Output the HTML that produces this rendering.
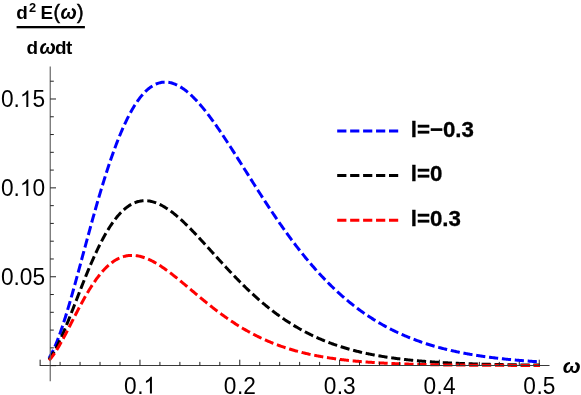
<!DOCTYPE html>
<html><head><meta charset="utf-8"><title>plot</title>
<style>
html,body{margin:0;padding:0;background:#fff;width:581px;height:395px;overflow:hidden;}
svg{display:block;will-change:transform;}
text{font-family:"Liberation Sans",sans-serif;}
</style></head>
<body>
<svg width="581" height="395" viewBox="0 0 581 395">
<rect width="581" height="395" fill="#fff"/>
<path d="M49.00 358.10 L49.82 356.78 L50.64 355.36 L51.45 353.85 L52.27 352.26 L53.09 350.58 L53.91 348.82 L54.73 346.98 L55.55 345.06 L56.36 343.07 L57.18 341.02 L58.00 338.89 L58.82 336.70 L59.64 334.45 L60.46 332.14 L61.28 329.78 L62.09 327.36 L62.91 324.89 L63.73 322.37 L64.55 319.81 L65.37 317.20 L66.19 314.55 L67.00 311.86 L67.82 309.14 L68.64 306.38 L69.46 303.59 L70.28 300.77 L71.09 297.92 L71.91 295.05 L72.73 292.15 L73.55 289.23 L74.37 286.29 L75.19 283.33 L76.00 280.36 L76.82 277.37 L77.64 274.37 L78.46 271.36 L79.28 268.35 L80.10 265.32 L80.91 262.29 L81.73 259.26 L82.55 256.22 L83.37 253.18 L84.19 250.15 L85.01 247.11 L85.82 244.08 L86.64 241.06 L87.46 238.04 L88.28 235.03 L89.10 232.03 L89.92 229.04 L90.73 226.06 L91.55 223.10 L92.37 220.14 L93.19 217.21 L94.01 214.29 L94.83 211.38 L95.65 208.50 L96.46 205.63 L97.28 202.79 L98.10 199.97 L98.92 197.17 L99.74 194.39 L100.56 191.63 L101.37 188.90 L102.19 186.20 L103.01 183.52 L103.83 180.87 L104.65 178.25 L105.46 175.65 L106.28 173.09 L107.10 170.55 L107.92 168.05 L108.74 165.57 L109.56 163.13 L110.38 160.72 L111.19 158.34 L112.01 156.00 L112.83 153.68 L113.65 151.41 L114.47 149.16 L115.28 146.95 L116.10 144.78 L116.92 142.64 L117.74 140.54 L118.56 138.47 L119.38 136.44 L120.19 134.45 L121.01 132.49 L121.83 130.57 L122.65 128.69 L123.47 126.84 L124.29 125.04 L125.10 123.27 L125.92 121.54 L126.74 119.84 L127.56 118.19 L128.38 116.57 L129.20 114.99 L130.01 113.45 L130.83 111.95 L131.65 110.48 L132.47 109.06 L133.29 107.67 L134.11 106.32 L134.93 105.01 L135.74 103.74 L136.56 102.50 L137.38 101.31 L138.20 100.15 L139.02 99.03 L139.83 97.95 L140.65 96.90 L141.47 95.89 L142.29 94.93 L143.11 93.99 L143.93 93.10 L144.75 92.24 L145.56 91.42 L146.38 90.63 L147.20 89.89 L148.02 89.17 L148.84 88.50 L149.65 87.86 L150.47 87.25 L151.29 86.68 L152.11 86.15 L152.93 85.65 L153.75 85.18 L154.56 84.75 L155.38 84.35 L156.20 83.99 L157.02 83.66 L157.84 83.36 L158.66 83.09 L159.47 82.86 L160.29 82.66 L161.11 82.49 L161.93 82.35 L162.75 82.25 L163.57 82.17 L164.38 82.13 L165.20 82.11 L166.02 82.13 L166.84 82.18 L167.66 82.25 L168.48 82.35 L169.29 82.48 L170.11 82.64 L170.93 82.83 L171.75 83.04 L172.57 83.29 L173.39 83.55 L174.21 83.85 L175.02 84.17 L175.84 84.52 L176.66 84.89 L177.48 85.28 L178.30 85.70 L179.12 86.15 L179.93 86.62 L180.75 87.11 L181.57 87.62 L182.39 88.16 L183.21 88.72 L184.03 89.30 L184.84 89.90 L185.66 90.53 L186.48 91.17 L187.30 91.84 L188.12 92.53 L188.94 93.23 L189.75 93.95 L190.57 94.70 L191.39 95.46 L192.21 96.24 L193.03 97.04 L193.84 97.85 L194.66 98.69 L195.48 99.54 L196.30 100.40 L197.12 101.28 L197.94 102.18 L198.75 103.10 L199.57 104.02 L200.39 104.97 L201.21 105.92 L202.03 106.90 L202.85 107.88 L203.66 108.88 L204.48 109.89 L205.30 110.92 L206.12 111.95 L206.94 113.00 L207.76 114.06 L208.57 115.13 L209.39 116.21 L210.21 117.31 L211.03 118.41 L211.85 119.53 L212.67 120.65 L213.49 121.78 L214.30 122.93 L215.12 124.08 L215.94 125.24 L216.76 126.41 L217.58 127.58 L218.40 128.77 L219.21 129.96 L220.03 131.16 L220.85 132.36 L221.67 133.58 L222.49 134.80 L223.31 136.02 L224.12 137.25 L224.94 138.49 L225.76 139.73 L226.58 140.98 L227.40 142.23 L228.22 143.48 L229.03 144.75 L229.85 146.01 L230.67 147.28 L231.49 148.55 L232.31 149.83 L233.12 151.11 L233.94 152.39 L234.76 153.67 L235.58 154.96 L236.40 156.25 L237.22 157.54 L238.03 158.83 L238.85 160.13 L239.67 161.42 L240.49 162.72 L241.31 164.02 L242.13 165.32 L242.95 166.62 L243.76 167.92 L244.58 169.22 L245.40 170.52 L246.22 171.82 L247.04 173.12 L247.86 174.42 L248.67 175.72 L249.49 177.02 L250.31 178.32 L251.13 179.62 L251.95 180.91 L252.77 182.21 L253.58 183.50 L254.40 184.79 L255.22 186.08 L256.04 187.37 L256.86 188.66 L257.68 189.94 L258.49 191.22 L259.31 192.50 L260.13 193.77 L260.95 195.05 L261.77 196.32 L262.59 197.58 L263.40 198.85 L264.22 200.11 L265.04 201.37 L265.86 202.62 L266.68 203.87 L267.50 205.12 L268.31 206.36 L269.13 207.60 L269.95 208.84 L270.77 210.07 L271.59 211.29 L272.41 212.52 L273.22 213.73 L274.04 214.95 L274.86 216.16 L275.68 217.36 L276.50 218.56 L277.32 219.76 L278.13 220.95 L278.95 222.13 L279.77 223.32 L280.59 224.49 L281.41 225.66 L282.23 226.83 L283.04 227.99 L283.86 229.14 L284.68 230.29 L285.50 231.44 L286.32 232.58 L287.13 233.71 L287.95 234.84 L288.77 235.96 L289.59 237.08 L290.41 238.19 L291.23 239.29 L292.04 240.39 L292.86 241.49 L293.68 242.58 L294.50 243.66 L295.32 244.73 L296.14 245.80 L296.95 246.87 L297.77 247.93 L298.59 248.98 L299.41 250.02 L300.23 251.06 L301.05 252.10 L301.87 253.13 L302.68 254.15 L303.50 255.16 L304.32 256.17 L305.14 257.18 L305.96 258.17 L306.77 259.16 L307.59 260.15 L308.41 261.13 L309.23 262.10 L310.05 263.06 L310.87 264.02 L311.69 264.98 L312.50 265.92 L313.32 266.86 L314.14 267.80 L314.96 268.72 L315.78 269.64 L316.59 270.56 L317.41 271.47 L318.23 272.37 L319.05 273.27 L319.87 274.16 L320.69 275.04 L321.50 275.92 L322.32 276.79 L323.14 277.65 L323.96 278.51 L324.78 279.36 L325.60 280.21 L326.41 281.05 L327.23 281.88 L328.05 282.71 L328.87 283.53 L329.69 284.34 L330.51 285.15 L331.32 285.95 L332.14 286.75 L332.96 287.54 L333.78 288.32 L334.60 289.10 L335.42 289.87 L336.24 290.63 L337.05 291.39 L337.87 292.15 L338.69 292.89 L339.51 293.63 L340.33 294.37 L341.14 295.10 L341.96 295.82 L342.78 296.54 L343.60 297.25 L344.42 297.95 L345.24 298.65 L346.06 299.35 L346.87 300.04 L347.69 300.72 L348.51 301.39 L349.33 302.06 L350.15 302.73 L350.96 303.39 L351.78 304.04 L352.60 304.69 L353.42 305.33 L354.24 305.97 L355.06 306.60 L355.88 307.22 L356.69 307.84 L357.51 308.46 L358.33 309.07 L359.15 309.67 L359.97 310.27 L360.78 310.86 L361.60 311.45 L362.42 312.03 L363.24 312.61 L364.06 313.18 L364.88 313.75 L365.69 314.31 L366.51 314.87 L367.33 315.42 L368.15 315.96 L368.97 316.50 L369.79 317.04 L370.60 317.57 L371.42 318.10 L372.24 318.62 L373.06 319.14 L373.88 319.65 L374.70 320.15 L375.51 320.65 L376.33 321.15 L377.15 321.64 L377.97 322.13 L378.79 322.61 L379.61 323.09 L380.42 323.57 L381.24 324.04 L382.06 324.50 L382.88 324.96 L383.70 325.42 L384.52 325.87 L385.33 326.31 L386.15 326.76 L386.97 327.19 L387.79 327.63 L388.61 328.06 L389.43 328.48 L390.24 328.90 L391.06 329.32 L391.88 329.73 L392.70 330.14 L393.52 330.54 L394.34 330.94 L395.15 331.34 L395.97 331.73 L396.79 332.12 L397.61 332.50 L398.43 332.88 L399.25 333.26 L400.06 333.63 L400.88 334.00 L401.70 334.37 L402.52 334.73 L403.34 335.09 L404.16 335.44 L404.97 335.79 L405.79 336.14 L406.61 336.48 L407.43 336.82 L408.25 337.15 L409.07 337.49 L409.88 337.82 L410.70 338.14 L411.52 338.46 L412.34 338.78 L413.16 339.10 L413.98 339.41 L414.80 339.72 L415.61 340.02 L416.43 340.32 L417.25 340.62 L418.07 340.92 L418.89 341.21 L419.71 341.50 L420.52 341.78 L421.34 342.07 L422.16 342.35 L422.98 342.62 L423.80 342.90 L424.62 343.17 L425.43 343.44 L426.25 343.70 L427.07 343.96 L427.89 344.22 L428.71 344.48 L429.53 344.73 L430.34 344.98 L431.16 345.23 L431.98 345.48 L432.80 345.72 L433.62 345.96 L434.44 346.20 L435.25 346.43 L436.07 346.66 L436.89 346.89 L437.71 347.12 L438.53 347.34 L439.35 347.57 L440.16 347.79 L440.98 348.00 L441.80 348.22 L442.62 348.43 L443.44 348.64 L444.25 348.85 L445.07 349.05 L445.89 349.25 L446.71 349.45 L447.53 349.65 L448.35 349.85 L449.17 350.04 L449.98 350.23 L450.80 350.42 L451.62 350.61 L452.44 350.79 L453.26 350.98 L454.07 351.16 L454.89 351.33 L455.71 351.51 L456.53 351.68 L457.35 351.86 L458.17 352.03 L458.99 352.20 L459.80 352.36 L460.62 352.53 L461.44 352.69 L462.26 352.85 L463.08 353.01 L463.89 353.17 L464.71 353.32 L465.53 353.47 L466.35 353.63 L467.17 353.78 L467.99 353.92 L468.81 354.07 L469.62 354.21 L470.44 354.36 L471.26 354.50 L472.08 354.64 L472.90 354.78 L473.72 354.91 L474.53 355.05 L475.35 355.18 L476.17 355.31 L476.99 355.44 L477.81 355.57 L478.62 355.70 L479.44 355.82 L480.26 355.94 L481.08 356.07 L481.90 356.19 L482.72 356.31 L483.54 356.42 L484.35 356.54 L485.17 356.66 L485.99 356.77 L486.81 356.88 L487.63 356.99 L488.44 357.10 L489.26 357.21 L490.08 357.32 L490.90 357.42 L491.72 357.53 L492.54 357.63 L493.36 357.73 L494.17 357.83 L494.99 357.93 L495.81 358.03 L496.63 358.13 L497.45 358.22 L498.26 358.32 L499.08 358.41 L499.90 358.50 L500.72 358.59 L501.54 358.68 L502.36 358.77 L503.18 358.86 L503.99 358.95 L504.81 359.03 L505.63 359.12 L506.45 359.20 L507.27 359.28 L508.09 359.37 L508.90 359.45 L509.72 359.53 L510.54 359.60 L511.36 359.68 L512.18 359.76 L513.00 359.83 L513.81 359.91 L514.63 359.98 L515.45 360.06 L516.27 360.13 L517.09 360.20 L517.90 360.27 L518.72 360.34 L519.54 360.41 L520.36 360.47 L521.18 360.54 L522.00 360.61 L522.82 360.67 L523.63 360.73 L524.45 360.80 L525.27 360.86 L526.09 360.92 L526.91 360.98 L527.73 361.04 L528.54 361.10 L529.36 361.16 L530.18 361.22 L531.00 361.28 L531.82 361.33 L532.63 361.39 L533.45 361.44 L534.27 361.50 L535.09 361.55 L535.91 361.60 L536.73 361.66 L537.55 361.71 L538.36 361.76 L539.18 361.81 L540.00 361.86" fill="none" stroke="#0000ff" stroke-width="3.0" stroke-dasharray="9.2 3.75"/>
<path d="M49.00 359.50 L49.82 358.44 L50.64 357.30 L51.45 356.10 L52.27 354.84 L53.09 353.51 L53.91 352.12 L54.73 350.67 L55.55 349.17 L56.36 347.62 L57.18 346.02 L58.00 344.37 L58.82 342.68 L59.64 340.95 L60.46 339.18 L61.28 337.37 L62.09 335.53 L62.91 333.65 L63.73 331.75 L64.55 329.82 L65.37 327.86 L66.19 325.89 L67.00 323.89 L67.82 321.87 L68.64 319.83 L69.46 317.78 L70.28 315.72 L71.09 313.64 L71.91 311.56 L72.73 309.47 L73.55 307.37 L74.37 305.26 L75.19 303.16 L76.00 301.05 L76.82 298.94 L77.64 296.84 L78.46 294.73 L79.28 292.64 L80.10 290.54 L80.91 288.46 L81.73 286.38 L82.55 284.31 L83.37 282.26 L84.19 280.21 L85.01 278.18 L85.82 276.16 L86.64 274.16 L87.46 272.17 L88.28 270.20 L89.10 268.25 L89.92 266.32 L90.73 264.40 L91.55 262.51 L92.37 260.64 L93.19 258.79 L94.01 256.96 L94.83 255.16 L95.65 253.38 L96.46 251.63 L97.28 249.90 L98.10 248.19 L98.92 246.52 L99.74 244.87 L100.56 243.24 L101.37 241.65 L102.19 240.08 L103.01 238.54 L103.83 237.03 L104.65 235.55 L105.46 234.10 L106.28 232.68 L107.10 231.29 L107.92 229.94 L108.74 228.61 L109.56 227.31 L110.38 226.04 L111.19 224.81 L112.01 223.60 L112.83 222.43 L113.65 221.29 L114.47 220.18 L115.28 219.10 L116.10 218.06 L116.92 217.04 L117.74 216.06 L118.56 215.11 L119.38 214.19 L120.19 213.31 L121.01 212.45 L121.83 211.63 L122.65 210.83 L123.47 210.07 L124.29 209.34 L125.10 208.64 L125.92 207.98 L126.74 207.34 L127.56 206.73 L128.38 206.16 L129.20 205.61 L130.01 205.10 L130.83 204.61 L131.65 204.16 L132.47 203.73 L133.29 203.34 L134.11 202.97 L134.93 202.63 L135.74 202.32 L136.56 202.04 L137.38 201.78 L138.20 201.55 L139.02 201.35 L139.83 201.18 L140.65 201.04 L141.47 200.92 L142.29 200.82 L143.11 200.75 L143.93 200.71 L144.75 200.70 L145.56 200.70 L146.38 200.74 L147.20 200.79 L148.02 200.87 L148.84 200.97 L149.65 201.10 L150.47 201.25 L151.29 201.42 L152.11 201.61 L152.93 201.83 L153.75 202.07 L154.56 202.32 L155.38 202.60 L156.20 202.90 L157.02 203.22 L157.84 203.55 L158.66 203.91 L159.47 204.29 L160.29 204.68 L161.11 205.09 L161.93 205.52 L162.75 205.97 L163.57 206.43 L164.38 206.91 L165.20 207.41 L166.02 207.92 L166.84 208.44 L167.66 208.99 L168.48 209.54 L169.29 210.12 L170.11 210.70 L170.93 211.30 L171.75 211.91 L172.57 212.54 L173.39 213.18 L174.21 213.83 L175.02 214.49 L175.84 215.16 L176.66 215.85 L177.48 216.55 L178.30 217.25 L179.12 217.97 L179.93 218.70 L180.75 219.44 L181.57 220.18 L182.39 220.94 L183.21 221.70 L184.03 222.47 L184.84 223.26 L185.66 224.04 L186.48 224.84 L187.30 225.64 L188.12 226.45 L188.94 227.27 L189.75 228.09 L190.57 228.92 L191.39 229.76 L192.21 230.60 L193.03 231.45 L193.84 232.30 L194.66 233.15 L195.48 234.02 L196.30 234.88 L197.12 235.75 L197.94 236.62 L198.75 237.50 L199.57 238.38 L200.39 239.26 L201.21 240.15 L202.03 241.03 L202.85 241.92 L203.66 242.82 L204.48 243.71 L205.30 244.61 L206.12 245.50 L206.94 246.40 L207.76 247.30 L208.57 248.20 L209.39 249.11 L210.21 250.01 L211.03 250.91 L211.85 251.81 L212.67 252.72 L213.49 253.62 L214.30 254.52 L215.12 255.42 L215.94 256.33 L216.76 257.23 L217.58 258.13 L218.40 259.02 L219.21 259.92 L220.03 260.82 L220.85 261.71 L221.67 262.60 L222.49 263.49 L223.31 264.38 L224.12 265.27 L224.94 266.15 L225.76 267.03 L226.58 267.91 L227.40 268.79 L228.22 269.67 L229.03 270.54 L229.85 271.41 L230.67 272.27 L231.49 273.13 L232.31 273.99 L233.12 274.85 L233.94 275.70 L234.76 276.55 L235.58 277.39 L236.40 278.24 L237.22 279.07 L238.03 279.91 L238.85 280.74 L239.67 281.56 L240.49 282.39 L241.31 283.20 L242.13 284.02 L242.95 284.83 L243.76 285.63 L244.58 286.43 L245.40 287.23 L246.22 288.02 L247.04 288.81 L247.86 289.59 L248.67 290.37 L249.49 291.14 L250.31 291.91 L251.13 292.67 L251.95 293.43 L252.77 294.19 L253.58 294.94 L254.40 295.68 L255.22 296.42 L256.04 297.16 L256.86 297.89 L257.68 298.61 L258.49 299.33 L259.31 300.04 L260.13 300.75 L260.95 301.46 L261.77 302.16 L262.59 302.85 L263.40 303.54 L264.22 304.22 L265.04 304.90 L265.86 305.58 L266.68 306.24 L267.50 306.91 L268.31 307.56 L269.13 308.22 L269.95 308.86 L270.77 309.51 L271.59 310.14 L272.41 310.77 L273.22 311.40 L274.04 312.02 L274.86 312.64 L275.68 313.25 L276.50 313.85 L277.32 314.45 L278.13 315.05 L278.95 315.64 L279.77 316.22 L280.59 316.80 L281.41 317.37 L282.23 317.94 L283.04 318.51 L283.86 319.06 L284.68 319.62 L285.50 320.17 L286.32 320.71 L287.13 321.25 L287.95 321.78 L288.77 322.31 L289.59 322.83 L290.41 323.35 L291.23 323.86 L292.04 324.37 L292.86 324.87 L293.68 325.37 L294.50 325.87 L295.32 326.36 L296.14 326.84 L296.95 327.32 L297.77 327.79 L298.59 328.26 L299.41 328.73 L300.23 329.19 L301.05 329.64 L301.87 330.09 L302.68 330.54 L303.50 330.98 L304.32 331.41 L305.14 331.85 L305.96 332.27 L306.77 332.70 L307.59 333.11 L308.41 333.53 L309.23 333.94 L310.05 334.34 L310.87 334.74 L311.69 335.14 L312.50 335.53 L313.32 335.92 L314.14 336.30 L314.96 336.68 L315.78 337.06 L316.59 337.43 L317.41 337.80 L318.23 338.16 L319.05 338.52 L319.87 338.87 L320.69 339.22 L321.50 339.57 L322.32 339.91 L323.14 340.25 L323.96 340.59 L324.78 340.92 L325.60 341.25 L326.41 341.57 L327.23 341.89 L328.05 342.21 L328.87 342.52 L329.69 342.83 L330.51 343.13 L331.32 343.44 L332.14 343.73 L332.96 344.03 L333.78 344.32 L334.60 344.61 L335.42 344.89 L336.24 345.17 L337.05 345.45 L337.87 345.72 L338.69 345.99 L339.51 346.26 L340.33 346.53 L341.14 346.79 L341.96 347.04 L342.78 347.30 L343.60 347.55 L344.42 347.80 L345.24 348.05 L346.06 348.29 L346.87 348.53 L347.69 348.76 L348.51 349.00 L349.33 349.23 L350.15 349.46 L350.96 349.68 L351.78 349.90 L352.60 350.12 L353.42 350.34 L354.24 350.55 L355.06 350.76 L355.88 350.97 L356.69 351.18 L357.51 351.38 L358.33 351.58 L359.15 351.78 L359.97 351.97 L360.78 352.17 L361.60 352.36 L362.42 352.54 L363.24 352.73 L364.06 352.91 L364.88 353.09 L365.69 353.27 L366.51 353.45 L367.33 353.62 L368.15 353.79 L368.97 353.96 L369.79 354.13 L370.60 354.29 L371.42 354.45 L372.24 354.61 L373.06 354.77 L373.88 354.93 L374.70 355.08 L375.51 355.23 L376.33 355.38 L377.15 355.53 L377.97 355.68 L378.79 355.82 L379.61 355.96 L380.42 356.10 L381.24 356.24 L382.06 356.38 L382.88 356.51 L383.70 356.64 L384.52 356.78 L385.33 356.90 L386.15 357.03 L386.97 357.16 L387.79 357.28 L388.61 357.40 L389.43 357.52 L390.24 357.64 L391.06 357.76 L391.88 357.87 L392.70 357.99 L393.52 358.10 L394.34 358.21 L395.15 358.32 L395.97 358.43 L396.79 358.53 L397.61 358.64 L398.43 358.74 L399.25 358.84 L400.06 358.94 L400.88 359.04 L401.70 359.14 L402.52 359.24 L403.34 359.33 L404.16 359.43 L404.97 359.52 L405.79 359.61 L406.61 359.70 L407.43 359.79 L408.25 359.87 L409.07 359.96 L409.88 360.04 L410.70 360.13 L411.52 360.21 L412.34 360.29 L413.16 360.37 L413.98 360.45 L414.80 360.53 L415.61 360.60 L416.43 360.68 L417.25 360.75 L418.07 360.82 L418.89 360.90 L419.71 360.97 L420.52 361.04 L421.34 361.11 L422.16 361.17 L422.98 361.24 L423.80 361.31 L424.62 361.37 L425.43 361.44 L426.25 361.50 L427.07 361.56 L427.89 361.62 L428.71 361.68 L429.53 361.74 L430.34 361.80 L431.16 361.86 L431.98 361.92 L432.80 361.97 L433.62 362.03 L434.44 362.08 L435.25 362.13 L436.07 362.19 L436.89 362.24 L437.71 362.29 L438.53 362.34 L439.35 362.39 L440.16 362.44 L440.98 362.49 L441.80 362.54 L442.62 362.58 L443.44 362.63 L444.25 362.67 L445.07 362.72 L445.89 362.76 L446.71 362.81 L447.53 362.85 L448.35 362.89 L449.17 362.93 L449.98 362.97 L450.80 363.01 L451.62 363.05 L452.44 363.09 L453.26 363.13 L454.07 363.17 L454.89 363.20 L455.71 363.24 L456.53 363.28 L457.35 363.31 L458.17 363.35 L458.99 363.38 L459.80 363.42 L460.62 363.45 L461.44 363.48 L462.26 363.52 L463.08 363.55 L463.89 363.58 L464.71 363.61 L465.53 363.64 L466.35 363.67 L467.17 363.70 L467.99 363.73 L468.81 363.76 L469.62 363.79 L470.44 363.81 L471.26 363.84 L472.08 363.87 L472.90 363.89 L473.72 363.92 L474.53 363.95 L475.35 363.97 L476.17 364.00 L476.99 364.02 L477.81 364.04 L478.62 364.07 L479.44 364.09 L480.26 364.11 L481.08 364.14 L481.90 364.16 L482.72 364.18 L483.54 364.20 L484.35 364.22 L485.17 364.24 L485.99 364.26 L486.81 364.29 L487.63 364.30 L488.44 364.32 L489.26 364.34 L490.08 364.36 L490.90 364.38 L491.72 364.40 L492.54 364.42 L493.36 364.44 L494.17 364.45 L494.99 364.47 L495.81 364.49 L496.63 364.50 L497.45 364.52 L498.26 364.54 L499.08 364.55 L499.90 364.57 L500.72 364.58 L501.54 364.60 L502.36 364.61 L503.18 364.63 L503.99 364.64 L504.81 364.66 L505.63 364.67 L506.45 364.68 L507.27 364.70 L508.09 364.71 L508.90 364.72 L509.72 364.74 L510.54 364.75 L511.36 364.76 L512.18 364.78 L513.00 364.79 L513.81 364.80 L514.63 364.81 L515.45 364.82 L516.27 364.83 L517.09 364.84 L517.90 364.86 L518.72 364.87 L519.54 364.88 L520.36 364.89 L521.18 364.90 L522.00 364.91 L522.82 364.92 L523.63 364.93 L524.45 364.94 L525.27 364.95 L526.09 364.96 L526.91 364.97 L527.73 364.97 L528.54 364.98 L529.36 364.99 L530.18 365.00 L531.00 365.01 L531.82 365.02 L532.63 365.03 L533.45 365.03 L534.27 365.04 L535.09 365.05 L535.91 365.06 L536.73 365.06 L537.55 365.07 L538.36 365.08 L539.18 365.09 L540.00 365.09" fill="none" stroke="#000000" stroke-width="3.0" stroke-dasharray="9.2 3.75"/>
<path d="M49.00 360.37 L49.82 359.48 L50.64 358.53 L51.45 357.52 L52.27 356.46 L53.09 355.35 L53.91 354.19 L54.73 352.99 L55.55 351.75 L56.36 350.47 L57.18 349.15 L58.00 347.80 L58.82 346.42 L59.64 345.01 L60.46 343.57 L61.28 342.11 L62.09 340.63 L62.91 339.12 L63.73 337.60 L64.55 336.06 L65.37 334.50 L66.19 332.94 L67.00 331.36 L67.82 329.77 L68.64 328.18 L69.46 326.58 L70.28 324.98 L71.09 323.37 L71.91 321.77 L72.73 320.16 L73.55 318.56 L74.37 316.96 L75.19 315.36 L76.00 313.78 L76.82 312.19 L77.64 310.62 L78.46 309.06 L79.28 307.51 L80.10 305.97 L80.91 304.44 L81.73 302.93 L82.55 301.43 L83.37 299.95 L84.19 298.48 L85.01 297.04 L85.82 295.61 L86.64 294.20 L87.46 292.81 L88.28 291.44 L89.10 290.09 L89.92 288.76 L90.73 287.45 L91.55 286.17 L92.37 284.91 L93.19 283.68 L94.01 282.47 L94.83 281.28 L95.65 280.12 L96.46 278.98 L97.28 277.87 L98.10 276.79 L98.92 275.73 L99.74 274.70 L100.56 273.70 L101.37 272.72 L102.19 271.77 L103.01 270.84 L103.83 269.95 L104.65 269.08 L105.46 268.24 L106.28 267.42 L107.10 266.64 L107.92 265.88 L108.74 265.15 L109.56 264.45 L110.38 263.77 L111.19 263.12 L112.01 262.50 L112.83 261.91 L113.65 261.34 L114.47 260.80 L115.28 260.29 L116.10 259.81 L116.92 259.35 L117.74 258.92 L118.56 258.51 L119.38 258.13 L120.19 257.78 L121.01 257.45 L121.83 257.15 L122.65 256.87 L123.47 256.62 L124.29 256.39 L125.10 256.18 L125.92 256.00 L126.74 255.85 L127.56 255.72 L128.38 255.61 L129.20 255.52 L130.01 255.46 L130.83 255.41 L131.65 255.40 L132.47 255.40 L133.29 255.42 L134.11 255.47 L134.93 255.53 L135.74 255.62 L136.56 255.72 L137.38 255.85 L138.20 255.99 L139.02 256.15 L139.83 256.33 L140.65 256.53 L141.47 256.75 L142.29 256.98 L143.11 257.24 L143.93 257.50 L144.75 257.79 L145.56 258.09 L146.38 258.40 L147.20 258.74 L148.02 259.08 L148.84 259.44 L149.65 259.82 L150.47 260.21 L151.29 260.61 L152.11 261.02 L152.93 261.45 L153.75 261.89 L154.56 262.35 L155.38 262.81 L156.20 263.29 L157.02 263.77 L157.84 264.27 L158.66 264.78 L159.47 265.29 L160.29 265.82 L161.11 266.36 L161.93 266.90 L162.75 267.46 L163.57 268.02 L164.38 268.59 L165.20 269.17 L166.02 269.76 L166.84 270.35 L167.66 270.95 L168.48 271.56 L169.29 272.17 L170.11 272.79 L170.93 273.41 L171.75 274.04 L172.57 274.68 L173.39 275.32 L174.21 275.96 L175.02 276.61 L175.84 277.26 L176.66 277.92 L177.48 278.58 L178.30 279.25 L179.12 279.91 L179.93 280.58 L180.75 281.26 L181.57 281.93 L182.39 282.61 L183.21 283.29 L184.03 283.97 L184.84 284.65 L185.66 285.33 L186.48 286.02 L187.30 286.71 L188.12 287.39 L188.94 288.08 L189.75 288.77 L190.57 289.46 L191.39 290.14 L192.21 290.83 L193.03 291.52 L193.84 292.21 L194.66 292.89 L195.48 293.58 L196.30 294.26 L197.12 294.95 L197.94 295.63 L198.75 296.31 L199.57 296.99 L200.39 297.67 L201.21 298.34 L202.03 299.02 L202.85 299.69 L203.66 300.36 L204.48 301.03 L205.30 301.69 L206.12 302.36 L206.94 303.02 L207.76 303.67 L208.57 304.33 L209.39 304.98 L210.21 305.63 L211.03 306.28 L211.85 306.92 L212.67 307.56 L213.49 308.19 L214.30 308.83 L215.12 309.46 L215.94 310.08 L216.76 310.71 L217.58 311.32 L218.40 311.94 L219.21 312.55 L220.03 313.16 L220.85 313.76 L221.67 314.36 L222.49 314.96 L223.31 315.55 L224.12 316.14 L224.94 316.72 L225.76 317.30 L226.58 317.87 L227.40 318.44 L228.22 319.01 L229.03 319.57 L229.85 320.13 L230.67 320.68 L231.49 321.23 L232.31 321.78 L233.12 322.32 L233.94 322.85 L234.76 323.38 L235.58 323.91 L236.40 324.43 L237.22 324.95 L238.03 325.46 L238.85 325.97 L239.67 326.48 L240.49 326.98 L241.31 327.47 L242.13 327.96 L242.95 328.45 L243.76 328.93 L244.58 329.41 L245.40 329.88 L246.22 330.35 L247.04 330.81 L247.86 331.27 L248.67 331.72 L249.49 332.17 L250.31 332.62 L251.13 333.06 L251.95 333.49 L252.77 333.93 L253.58 334.35 L254.40 334.78 L255.22 335.19 L256.04 335.61 L256.86 336.02 L257.68 336.42 L258.49 336.82 L259.31 337.22 L260.13 337.61 L260.95 338.00 L261.77 338.38 L262.59 338.76 L263.40 339.14 L264.22 339.51 L265.04 339.87 L265.86 340.24 L266.68 340.59 L267.50 340.95 L268.31 341.30 L269.13 341.64 L269.95 341.99 L270.77 342.32 L271.59 342.66 L272.41 342.99 L273.22 343.31 L274.04 343.63 L274.86 343.95 L275.68 344.27 L276.50 344.58 L277.32 344.88 L278.13 345.19 L278.95 345.49 L279.77 345.78 L280.59 346.07 L281.41 346.36 L282.23 346.64 L283.04 346.92 L283.86 347.20 L284.68 347.48 L285.50 347.75 L286.32 348.01 L287.13 348.28 L287.95 348.54 L288.77 348.79 L289.59 349.04 L290.41 349.29 L291.23 349.54 L292.04 349.78 L292.86 350.02 L293.68 350.26 L294.50 350.49 L295.32 350.73 L296.14 350.95 L296.95 351.18 L297.77 351.40 L298.59 351.62 L299.41 351.83 L300.23 352.04 L301.05 352.25 L301.87 352.46 L302.68 352.66 L303.50 352.87 L304.32 353.06 L305.14 353.26 L305.96 353.45 L306.77 353.64 L307.59 353.83 L308.41 354.01 L309.23 354.20 L310.05 354.37 L310.87 354.55 L311.69 354.73 L312.50 354.90 L313.32 355.07 L314.14 355.23 L314.96 355.40 L315.78 355.56 L316.59 355.72 L317.41 355.88 L318.23 356.03 L319.05 356.19 L319.87 356.34 L320.69 356.49 L321.50 356.63 L322.32 356.78 L323.14 356.92 L323.96 357.06 L324.78 357.20 L325.60 357.33 L326.41 357.47 L327.23 357.60 L328.05 357.73 L328.87 357.86 L329.69 357.98 L330.51 358.11 L331.32 358.23 L332.14 358.35 L332.96 358.47 L333.78 358.58 L334.60 358.70 L335.42 358.81 L336.24 358.92 L337.05 359.03 L337.87 359.14 L338.69 359.25 L339.51 359.35 L340.33 359.46 L341.14 359.56 L341.96 359.66 L342.78 359.76 L343.60 359.85 L344.42 359.95 L345.24 360.04 L346.06 360.13 L346.87 360.23 L347.69 360.31 L348.51 360.40 L349.33 360.49 L350.15 360.57 L350.96 360.66 L351.78 360.74 L352.60 360.82 L353.42 360.90 L354.24 360.98 L355.06 361.06 L355.88 361.14 L356.69 361.21 L357.51 361.28 L358.33 361.36 L359.15 361.43 L359.97 361.50 L360.78 361.57 L361.60 361.64 L362.42 361.70 L363.24 361.77 L364.06 361.83 L364.88 361.90 L365.69 361.96 L366.51 362.02 L367.33 362.08 L368.15 362.14 L368.97 362.20 L369.79 362.26 L370.60 362.32 L371.42 362.37 L372.24 362.43 L373.06 362.48 L373.88 362.53 L374.70 362.59 L375.51 362.64 L376.33 362.69 L377.15 362.74 L377.97 362.79 L378.79 362.83 L379.61 362.88 L380.42 362.93 L381.24 362.97 L382.06 363.02 L382.88 363.06 L383.70 363.11 L384.52 363.15 L385.33 363.19 L386.15 363.23 L386.97 363.27 L387.79 363.31 L388.61 363.35 L389.43 363.39 L390.24 363.43 L391.06 363.46 L391.88 363.50 L392.70 363.54 L393.52 363.57 L394.34 363.61 L395.15 363.64 L395.97 363.67 L396.79 363.71 L397.61 363.74 L398.43 363.77 L399.25 363.80 L400.06 363.83 L400.88 363.86 L401.70 363.89 L402.52 363.92 L403.34 363.95 L404.16 363.98 L404.97 364.01 L405.79 364.03 L406.61 364.06 L407.43 364.09 L408.25 364.11 L409.07 364.14 L409.88 364.16 L410.70 364.19 L411.52 364.21 L412.34 364.24 L413.16 364.26 L413.98 364.28 L414.80 364.30 L415.61 364.33 L416.43 364.35 L417.25 364.37 L418.07 364.39 L418.89 364.41 L419.71 364.43 L420.52 364.45 L421.34 364.47 L422.16 364.49 L422.98 364.51 L423.80 364.53 L424.62 364.54 L425.43 364.56 L426.25 364.58 L427.07 364.60 L427.89 364.61 L428.71 364.63 L429.53 364.65 L430.34 364.66 L431.16 364.68 L431.98 364.69 L432.80 364.71 L433.62 364.72 L434.44 364.74 L435.25 364.75 L436.07 364.76 L436.89 364.78 L437.71 364.79 L438.53 364.81 L439.35 364.82 L440.16 364.83 L440.98 364.84 L441.80 364.86 L442.62 364.87 L443.44 364.88 L444.25 364.89 L445.07 364.90 L445.89 364.91 L446.71 364.93 L447.53 364.94 L448.35 364.95 L449.17 364.96 L449.98 364.97 L450.80 364.98 L451.62 364.99 L452.44 365.00 L453.26 365.01 L454.07 365.02 L454.89 365.03 L455.71 365.03 L456.53 365.04 L457.35 365.05 L458.17 365.06 L458.99 365.07 L459.80 365.08 L460.62 365.09 L461.44 365.09 L462.26 365.10 L463.08 365.11 L463.89 365.12 L464.71 365.12 L465.53 365.13 L466.35 365.14 L467.17 365.14 L467.99 365.15 L468.81 365.16 L469.62 365.16 L470.44 365.17 L471.26 365.18 L472.08 365.18 L472.90 365.19 L473.72 365.20 L474.53 365.20 L475.35 365.21 L476.17 365.21 L476.99 365.22 L477.81 365.22 L478.62 365.23 L479.44 365.23 L480.26 365.24 L481.08 365.24 L481.90 365.25 L482.72 365.25 L483.54 365.26 L484.35 365.26 L485.17 365.27 L485.99 365.27 L486.81 365.28 L487.63 365.28 L488.44 365.29 L489.26 365.29 L490.08 365.29 L490.90 365.30 L491.72 365.30 L492.54 365.31 L493.36 365.31 L494.17 365.31 L494.99 365.32 L495.81 365.32 L496.63 365.32 L497.45 365.33 L498.26 365.33 L499.08 365.33 L499.90 365.34 L500.72 365.34 L501.54 365.34 L502.36 365.35 L503.18 365.35 L503.99 365.35 L504.81 365.36 L505.63 365.36 L506.45 365.36 L507.27 365.36 L508.09 365.37 L508.90 365.37 L509.72 365.37 L510.54 365.37 L511.36 365.38 L512.18 365.38 L513.00 365.38 L513.81 365.38 L514.63 365.39 L515.45 365.39 L516.27 365.39 L517.09 365.39 L517.90 365.40 L518.72 365.40 L519.54 365.40 L520.36 365.40 L521.18 365.40 L522.00 365.41 L522.82 365.41 L523.63 365.41 L524.45 365.41 L525.27 365.41 L526.09 365.41 L526.91 365.42 L527.73 365.42 L528.54 365.42 L529.36 365.42 L530.18 365.42 L531.00 365.42 L531.82 365.43 L532.63 365.43 L533.45 365.43 L534.27 365.43 L535.09 365.43 L535.91 365.43 L536.73 365.43 L537.55 365.44 L538.36 365.44 L539.18 365.44 L540.00 365.44" fill="none" stroke="#ff0000" stroke-width="3.0" stroke-dasharray="9.2 3.75"/>
<line x1="39.7" y1="365.5" x2="549.5" y2="365.5" stroke="#383838" stroke-width="1.1"/>
<line x1="50.24" y1="66.5" x2="50.24" y2="381.3" stroke="#666666" stroke-width="1.19"/>
<line x1="40.14" y1="365.5" x2="40.14" y2="359.70" stroke="#222222" stroke-width="1.0"/>
<line x1="60.10" y1="365.5" x2="60.10" y2="361.90" stroke="#222222" stroke-width="1.0"/>
<line x1="80.07" y1="365.5" x2="80.07" y2="361.90" stroke="#222222" stroke-width="1.0"/>
<line x1="100.03" y1="365.5" x2="100.03" y2="361.90" stroke="#222222" stroke-width="1.0"/>
<line x1="120.00" y1="365.5" x2="120.00" y2="361.90" stroke="#222222" stroke-width="1.0"/>
<line x1="139.96" y1="365.5" x2="139.96" y2="359.70" stroke="#222222" stroke-width="1.0"/>
<line x1="159.92" y1="365.5" x2="159.92" y2="361.90" stroke="#222222" stroke-width="1.0"/>
<line x1="179.89" y1="365.5" x2="179.89" y2="361.90" stroke="#222222" stroke-width="1.0"/>
<line x1="199.85" y1="365.5" x2="199.85" y2="361.90" stroke="#222222" stroke-width="1.0"/>
<line x1="219.82" y1="365.5" x2="219.82" y2="361.90" stroke="#222222" stroke-width="1.0"/>
<line x1="239.78" y1="365.5" x2="239.78" y2="359.70" stroke="#222222" stroke-width="1.0"/>
<line x1="259.74" y1="365.5" x2="259.74" y2="361.90" stroke="#222222" stroke-width="1.0"/>
<line x1="279.71" y1="365.5" x2="279.71" y2="361.90" stroke="#222222" stroke-width="1.0"/>
<line x1="299.67" y1="365.5" x2="299.67" y2="361.90" stroke="#222222" stroke-width="1.0"/>
<line x1="319.64" y1="365.5" x2="319.64" y2="361.90" stroke="#222222" stroke-width="1.0"/>
<line x1="339.60" y1="365.5" x2="339.60" y2="359.70" stroke="#222222" stroke-width="1.0"/>
<line x1="359.56" y1="365.5" x2="359.56" y2="361.90" stroke="#222222" stroke-width="1.0"/>
<line x1="379.53" y1="365.5" x2="379.53" y2="361.90" stroke="#222222" stroke-width="1.0"/>
<line x1="399.49" y1="365.5" x2="399.49" y2="361.90" stroke="#222222" stroke-width="1.0"/>
<line x1="419.46" y1="365.5" x2="419.46" y2="361.90" stroke="#222222" stroke-width="1.0"/>
<line x1="439.42" y1="365.5" x2="439.42" y2="359.70" stroke="#222222" stroke-width="1.0"/>
<line x1="459.38" y1="365.5" x2="459.38" y2="361.90" stroke="#222222" stroke-width="1.0"/>
<line x1="479.35" y1="365.5" x2="479.35" y2="361.90" stroke="#222222" stroke-width="1.0"/>
<line x1="499.31" y1="365.5" x2="499.31" y2="361.90" stroke="#222222" stroke-width="1.0"/>
<line x1="519.28" y1="365.5" x2="519.28" y2="361.90" stroke="#222222" stroke-width="1.0"/>
<line x1="539.24" y1="365.5" x2="539.24" y2="359.70" stroke="#222222" stroke-width="1.0"/>
<line x1="50.2" y1="365.63" x2="56.00" y2="365.63" stroke="#222222" stroke-width="1.0"/>
<line x1="50.2" y1="347.85" x2="53.80" y2="347.85" stroke="#222222" stroke-width="1.0"/>
<line x1="50.2" y1="330.08" x2="53.80" y2="330.08" stroke="#222222" stroke-width="1.0"/>
<line x1="50.2" y1="312.30" x2="53.80" y2="312.30" stroke="#222222" stroke-width="1.0"/>
<line x1="50.2" y1="294.53" x2="53.80" y2="294.53" stroke="#222222" stroke-width="1.0"/>
<line x1="50.2" y1="276.75" x2="56.00" y2="276.75" stroke="#222222" stroke-width="1.0"/>
<line x1="50.2" y1="258.97" x2="53.80" y2="258.97" stroke="#222222" stroke-width="1.0"/>
<line x1="50.2" y1="241.20" x2="53.80" y2="241.20" stroke="#222222" stroke-width="1.0"/>
<line x1="50.2" y1="223.42" x2="53.80" y2="223.42" stroke="#222222" stroke-width="1.0"/>
<line x1="50.2" y1="205.65" x2="53.80" y2="205.65" stroke="#222222" stroke-width="1.0"/>
<line x1="50.2" y1="187.87" x2="56.00" y2="187.87" stroke="#222222" stroke-width="1.0"/>
<line x1="50.2" y1="170.09" x2="53.80" y2="170.09" stroke="#222222" stroke-width="1.0"/>
<line x1="50.2" y1="152.32" x2="53.80" y2="152.32" stroke="#222222" stroke-width="1.0"/>
<line x1="50.2" y1="134.54" x2="53.80" y2="134.54" stroke="#222222" stroke-width="1.0"/>
<line x1="50.2" y1="116.77" x2="53.80" y2="116.77" stroke="#222222" stroke-width="1.0"/>
<line x1="50.2" y1="98.99" x2="56.00" y2="98.99" stroke="#222222" stroke-width="1.0"/>
<line x1="50.2" y1="81.21" x2="53.80" y2="81.21" stroke="#222222" stroke-width="1.0"/>
<text transform="translate(124.03,393.50) scale(1,1.02)" font-size="22.7" fill="#000">0</text>
<text transform="translate(137.15,393.50) scale(1,1.02)" font-size="22.7" fill="#000">.</text>
<path transform="translate(143.47,393.50) scale(0.011084,-0.011306)" d="M763 0H583V1147Q518 1085 412.5 1023Q307 961 223 930V1104Q374 1175 487 1276Q600 1377 647 1472H763Z" fill="#000"/>
<text transform="translate(223.85,393.50) scale(1,1.02)" font-size="22.7" fill="#000">0</text>
<text transform="translate(236.97,393.50) scale(1,1.02)" font-size="22.7" fill="#000">.2</text>
<text transform="translate(323.67,393.50) scale(1,1.02)" font-size="22.7" fill="#000">0</text>
<text transform="translate(336.79,393.50) scale(1,1.02)" font-size="22.7" fill="#000">.3</text>
<text transform="translate(423.49,393.50) scale(1,1.02)" font-size="22.7" fill="#000">0</text>
<text transform="translate(436.61,393.50) scale(1,1.02)" font-size="22.7" fill="#000">.4</text>
<text transform="translate(523.31,393.50) scale(1,1.02)" font-size="22.7" fill="#000">0</text>
<text transform="translate(536.43,393.50) scale(1,1.02)" font-size="22.7" fill="#000">.5</text>
<text transform="translate(0.93,284.76) scale(1,1.02)" font-size="22.7" fill="#000">0</text>
<text transform="translate(13.55,284.76) scale(1,1.02)" font-size="22.7" fill="#000">.05</text>
<text transform="translate(0.93,195.93) scale(1,1.02)" font-size="22.7" fill="#000">0</text>
<text transform="translate(13.55,195.93) scale(1,1.02)" font-size="22.7" fill="#000">.</text>
<path transform="translate(19.86,195.93) scale(0.011084,-0.011306)" d="M763 0H583V1147Q518 1085 412.5 1023Q307 961 223 930V1104Q374 1175 487 1276Q600 1377 647 1472H763Z" fill="#000"/>
<text transform="translate(32.48,195.93) scale(1,1.02)" font-size="22.7" fill="#000">0</text>
<text transform="translate(0.93,107.09) scale(1,1.02)" font-size="22.7" fill="#000">0</text>
<text transform="translate(13.55,107.09) scale(1,1.02)" font-size="22.7" fill="#000">.</text>
<path transform="translate(19.86,107.09) scale(0.011084,-0.011306)" d="M763 0H583V1147Q518 1085 412.5 1023Q307 961 223 930V1104Q374 1175 487 1276Q600 1377 647 1472H763Z" fill="#000"/>
<text transform="translate(32.48,107.09) scale(1,1.02)" font-size="22.7" fill="#000">5</text>
<line x1="337.2" y1="131.0" x2="398.5" y2="131.0" stroke="#0000ff" stroke-width="3.0" stroke-dasharray="9.2 3.75"/>
<text x="410.7" y="137.1" font-size="22.3" font-weight="bold" fill="#000" stroke="#000" stroke-width="0.3">l=−0.3</text>
<line x1="337.2" y1="175.6" x2="398.5" y2="175.6" stroke="#000000" stroke-width="3.0" stroke-dasharray="9.2 3.75"/>
<text x="410.7" y="181.2" font-size="22.3" font-weight="bold" fill="#000" stroke="#000" stroke-width="0.3">l=0</text>
<line x1="337.2" y1="220.2" x2="398.5" y2="220.2" stroke="#ff0000" stroke-width="3.0" stroke-dasharray="9.2 3.75"/>
<text x="410.7" y="225.6" font-size="22.3" font-weight="bold" fill="#000" stroke="#000" stroke-width="0.3">l=0.3</text>
<text transform="translate(562.8,373.2) scale(1.1,1)" font-size="19.5" font-weight="bold" font-style="italic" fill="#000">ω</text>
<text x="16.3" y="18.8" font-size="18.9" font-weight="bold" fill="#000">d</text>
<text x="29.0" y="11.6" font-size="12.8" font-weight="bold" fill="#000">2</text>
<text x="40.4" y="18.8" font-size="18.9" font-weight="bold" fill="#000">E</text>
<text x="53.6" y="18.6" font-size="19.5" fill="#000" stroke="#000" stroke-width="0.5">(</text>
<text x="60.6" y="18.8" font-size="19.5" font-weight="bold" font-style="italic" fill="#000">ω</text>
<text x="76.9" y="18.6" font-size="19.5" fill="#000" stroke="#000" stroke-width="0.5">)</text>
<rect x="16.6" y="26.0" width="68.3" height="2.3" fill="#000"/>
<text x="26.5" y="54.4" font-size="18.9" font-weight="bold" fill="#000">d</text>
<text x="39.4" y="54.4" font-size="19.5" font-weight="bold" font-style="italic" fill="#000">ω</text>
<text x="54.9" y="54.4" font-size="18.9" font-weight="bold" fill="#000">d</text>
<text x="66.0" y="54.4" font-size="18.9" font-weight="bold" fill="#000">t</text>
</svg>
</body></html>
